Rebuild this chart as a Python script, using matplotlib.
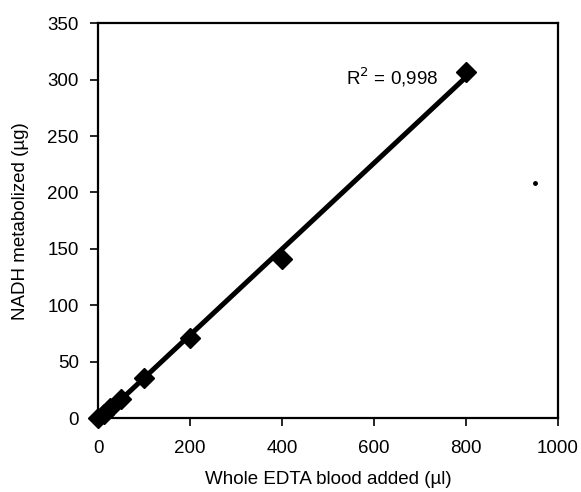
import numpy as np
import matplotlib
matplotlib.use("Agg")
import matplotlib.pyplot as plt

# blood volume (ul) vs NADH metabolized (ug)
blood_ul = [0, 12.5, 25, 50, 100, 200, 400, 800]
nadh_ug = [0, 4, 9, 17, 36, 71, 141, 307]

# the stray speck on the right of the scan
speck_x = [950]
speck_y = [208]

plt.rcParams['font.family'] = ['Liberation Sans', 'DejaVu Sans']

fig = plt.figure(figsize=(5.81, 4.92), dpi=100)
ax = fig.add_axes([0.169, 0.150, 0.791, 0.803])

# linear fit through the points
slope, intercept = np.polyfit(blood_ul, nadh_ug, 1)
fit_x = np.array([0, 800])
ax.plot(fit_x, slope * fit_x + intercept, color='black', lw=3.6, zorder=2)

ax.plot(blood_ul, nadh_ug, 'D', color='black', ms=10, zorder=3, clip_on=False)
ax.plot(speck_x, speck_y, 'o', color='black', ms=2.5)

ax.text(739, 302, r'R$^2$ = 0,998', fontsize=13.5, ha='right', va='center')

ax.set_xlim(0, 1000)
ax.set_ylim(0, 350)
ax.set_xticks(range(0, 1001, 200))
ax.set_yticks(range(0, 351, 50))
ax.tick_params(direction='out', length=6, width=1.2, labelsize=13.5)
ax.tick_params(axis='x', pad=10)
ax.tick_params(axis='y', pad=8)
for s in ax.spines.values():
    s.set_linewidth(1.6)

ax.set_xlabel('Whole EDTA blood added (µl)', fontsize=13.5, labelpad=10)
ax.set_ylabel('NADH metabolized (µg)', fontsize=13.5, labelpad=13)

fig.savefig('out.png', dpi=100)
